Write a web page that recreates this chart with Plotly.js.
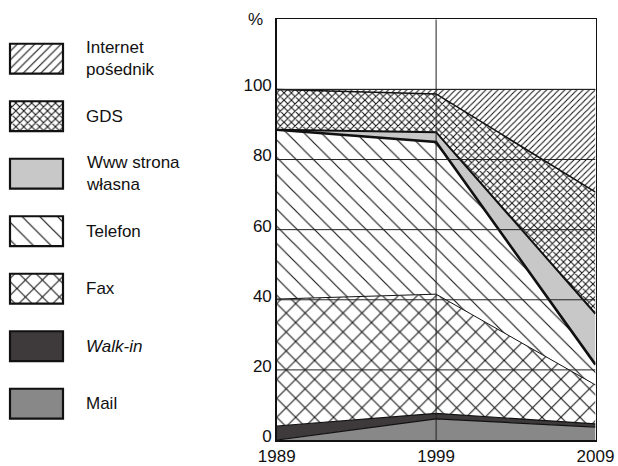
<!DOCTYPE html>
<html><head><meta charset="utf-8">
<script src="https://cdn.plot.ly/plotly-3.0.1.min.js"></script>
<style>html,body{margin:0;padding:0;background:#fff}#chart{width:618px;height:466px}</style>
</head><body><div id="chart"></div>
<script>
// ---- data (shares in %) ----
const years = [1989, 1999, 2009];
const mail = [0, 6.0, 3.7];
const walkIn = [4.0, 1.6, 0.9];
const fax = [36.2, 34.0, 11.1];
const telefon = [48.3, 43.4, 5.8];
const www = [0, 2.8, 14.5];
const gds = [11.5, 10.9, 34.7];
const internet = [0, 1.3, 29.3];
const seriesNames = ["Mail", "Walk-in", "Fax", "Telefon", "Www strona własna", "GDS", "Internet pośednik"];
const legendLabels = ["Internet<br>pośednik", "GDS", "Www strona<br>własna", "Telefon", "Fax", "<i>Walk-in</i>", "Mail"];
const xTickVals = [1989, 1999, 2009];
const yTickVals = [0, 20, 40, 60, 80, 100];

// ---- styles ----
const FONT = "Arial, 'Liberation Sans', sans-serif";
const FS = 17;
const W = 618, H = 466;
const plotL = 276.7, plotR = 595.5, plotB = 440, plotT = 19.3;
const yMax = 120;

const seriesValues = [mail, walkIn, fax, telefon, www, gds, internet];
const styles = [
  {fillcolor: '#888888', lw: 1.2},
  {fillcolor: '#3e3a3b', lw: 1.2},
  {pattern: {shape: 'x', size: 13.4, solidity: 0.15}, lw: 1},
  {pattern: {shape: '\\', size: 12.2, solidity: 0.09}, lw: 2.6},
  {fillcolor: '#c8c8c8', lw: 2},
  {pattern: {shape: 'x', size: 5.2, solidity: 0.35}, lw: 1.5},
  {pattern: {shape: '/', size: 4.3, solidity: 0.24}, lw: 1}
];
const legendPattern = [
  null, null,
  {shape: 'x', size: 12, solidity: 0.16},
  {shape: '\\', size: 12.5, solidity: 0.09},
  null,
  {shape: 'x', size: 5.6, solidity: 0.33},
  {shape: '/', size: 6.2, solidity: 0.18}
];

const traces = seriesValues.map((vals, i) => {
  const st = styles[i];
  const t = {
    type: 'scatter', mode: 'lines', x: years, y: vals, name: seriesNames[i],
    stackgroup: 'one', line: {color: '#111', width: st.lw},
    fillcolor: st.fillcolor || 'white', showlegend: false, hoverinfo: 'skip'
  };
  if (st.pattern) {
    t.fillpattern = Object.assign({fgcolor: '#111', bgcolor: 'white', fillmode: 'replace'}, st.pattern);
  }
  return t;
});

// legend swatches: one bar per series on separate invisible axes (top = last series)
const nS = seriesValues.length;
for (let k = 0; k < nS; k++) {
  const i = nS - 1 - k;
  const st = styles[i];
  const lp = legendPattern[i];
  const marker = {color: st.fillcolor || 'white', line: {color: '#111', width: 2.2}};
  if (lp) marker.pattern = Object.assign({fgcolor: '#111', bgcolor: 'white', fillmode: 'replace'}, lp);
  traces.push({
    type: 'bar', orientation: 'h', xaxis: 'x2', yaxis: 'y2',
    y: [k], x: [53], base: 10, width: 0.52, marker: marker,
    name: seriesNames[i], showlegend: false, hoverinfo: 'skip'
  });
}

const shapes = [];
yTickVals.filter(v => v > 0).forEach(v => shapes.push({
  type: 'line', xref: 'x', yref: 'y', x0: xTickVals[0], x1: xTickVals[xTickVals.length - 1], y0: v, y1: v,
  line: {color: '#222', width: 1}, layer: 'above'
}));
xTickVals.slice(1, -1).forEach(v => shapes.push({
  type: 'line', xref: 'x', yref: 'y', x0: v, x1: v, y0: 0, y1: yMax,
  line: {color: '#222', width: 1}, layer: 'above'
}));

const annotations = [];
legendLabels.forEach((lab, k) => {
  annotations.push({
    xref: 'paper', yref: 'y2', x: 84 / W, y: k, xanchor: 'left', yanchor: 'middle', align: 'left',
    text: lab, showarrow: false, font: {family: FONT, size: FS, color: '#111'}
  });
});
annotations.push({
  xref: 'paper', yref: 'y', x: 255.5 / W, y: yMax, xanchor: 'center', yanchor: 'middle',
  text: '%', showarrow: false, font: {family: FONT, size: FS, color: '#111'}
});

const sp = 57.5, c0 = 58.7;
const layout = {
  width: W, height: H, margin: {l: 0, r: 0, t: 0, b: 0},
  paper_bgcolor: 'white', plot_bgcolor: 'white',
  font: {family: FONT, size: FS, color: '#111'},
  showlegend: false, barmode: 'overlay',
  xaxis: {
    domain: [plotL / W, plotR / W], range: [xTickVals[0], xTickVals[xTickVals.length - 1]],
    tickvals: xTickVals, ticktext: xTickVals.map(String), showgrid: false, zeroline: false,
    showline: true, mirror: true, linecolor: '#111', linewidth: 1.5, ticks: '', layer: 'above traces',
    tickfont: {family: FONT, size: FS, color: '#111'}, fixedrange: true
  },
  yaxis: {
    domain: [1 - plotB / H, 1 - plotT / H], range: [0, yMax],
    tickvals: yTickVals, ticktext: yTickVals.map(String), showgrid: false, zeroline: false,
    showline: true, mirror: true, linecolor: '#111', linewidth: 1.5, ticks: '', layer: 'above traces',
    ticklabelshift: -4,
    tickfont: {family: FONT, size: FS, color: '#111'}, fixedrange: true
  },
  xaxis2: {domain: [0, 0.3], range: [0, 0.3 * W], visible: false, fixedrange: true, anchor: 'y2'},
  yaxis2: {domain: [0, 1], range: [(H - c0) / sp, -c0 / sp], visible: false, fixedrange: true, anchor: 'x2'},
  shapes: shapes, annotations: annotations
};

Plotly.newPlot('chart', traces, layout, {staticPlot: true, displayModeBar: false});
</script></body></html>
